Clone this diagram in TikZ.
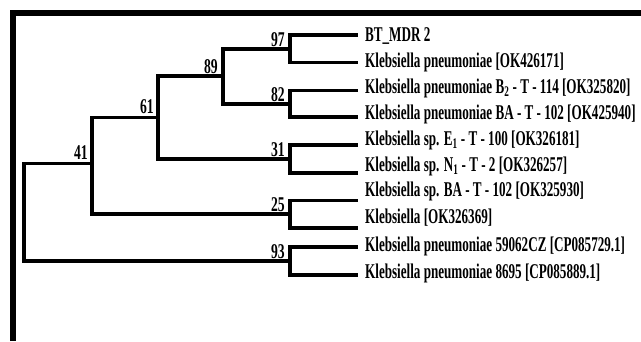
\documentclass[tikz,border=0pt]{standalone}
\usepackage{fontspec}
\setmainfont{Liberation Serif}
\newfontfamily\leaffont{Liberation Serif Bold}[FakeStretch=0.624]
\newfontfamily\bootfont{Liberation Serif Bold}[FakeStretch=0.65]
\begin{document}
\begin{tikzpicture}[x=1pt,y=-1pt,
  branch/.style={line width=3.6pt,line cap=rect,line join=miter},
  frameline/.style={line width=5.5pt},
  leaflab/.style={anchor=base west,inner sep=0pt,font=\leaffont\fontsize{21}{21}\selectfont},
  boot/.style={anchor=south east,inner sep=0pt,font=\bootfont\fontsize{21}{21}\selectfont}]
\useasboundingbox (0,0) rectangle (641,341);
% frame (top and left edges)
\coordinate (fl) at (13,341);
\coordinate (fc) at (13,13);
\coordinate (fr) at (641,13);
\draw[frameline] (fl) -- (fc) -- (fr);
% leaf ends
\foreach \i/\y in {1/35,2/62.5,3/90.5,4/117,5/145,6/173,7/200.5,8/228,9/247,10/275}
  \coordinate (e\i) at (356,\y);
% internal nodes
\coordinate (n97) at (290,48.75);
\coordinate (n82) at (290,103.75);
\coordinate (n89) at (223,76.25);
\coordinate (n31) at (290,159);
\coordinate (n61) at (158,117.5);
\coordinate (n25) at (290,214.25);
\coordinate (n41) at (92,163.3);
\coordinate (n93) at (290,261);
\coordinate (root) at (24,212);
% branches
\draw[branch] (n97) |- (e1); \draw[branch] (n97) |- (e2);
\draw[branch] (n82) |- (e3); \draw[branch] (n82) |- (e4);
\draw[branch] (n31) |- (e5); \draw[branch] (n31) |- (e6);
\draw[branch] (n25) |- (e7); \draw[branch] (n25) |- (e8);
\draw[branch] (n93) |- (e9); \draw[branch] (n93) |- (e10);
\draw[branch] (n89) |- (n97); \draw[branch] (n89) |- (n82);
\draw[branch] (n61) |- (n89); \draw[branch] (n61) |- (n31);
\draw[branch] (n41) |- (n61); \draw[branch] (n41) |- (n25);
\draw[branch] (root) |- (n41); \draw[branch] (root) |- (n93);
% leaf labels
\node[leaflab] (t1) at (365,41.7) {BT\_MDR 2};
\node[leaflab] (t2) at (365,67.3) {Klebsiella pneumoniae [OK426171]};
\node[leaflab] (t3) at (365,93.3) {Klebsiella pneumoniae B\textsubscript{2} - T - 114 [OK325820]};
\node[leaflab] (t4) at (365,119.3) {Klebsiella pneumoniae BA - T - 102 [OK425940]};
\node[leaflab] (t5) at (365,145.3) {Klebsiella sp. E\textsubscript{1} - T - 100 [OK326181]};
\node[leaflab] (t6) at (365,171.2) {Klebsiella sp. N\textsubscript{1} - T - 2 [OK326257]};
\node[leaflab] (t7) at (365,196.7) {Klebsiella sp. BA - T - 102 [OK325930]};
\node[leaflab] (t8) at (365,223) {Klebsiella [OK326369]};
\node[leaflab] (t9) at (365,251.7) {Klebsiella pneumoniae 59062CZ [CP085729.1]};
\node[leaflab] (t10) at (365,278.3) {Klebsiella pneumoniae 8695 [CP085889.1]};
% bootstrap values
\node[boot] (b97) at (285,46.5) {97};
\node[boot] (b89) at (218,73.5) {89};
\node[boot] (b82) at (285,101.5) {82};
\node[boot] (b61) at (154,114) {61};
\node[boot] (b31) at (285,156.5) {31};
\node[boot] (b41) at (88,160) {41};
\node[boot] (b25) at (285,211.5) {25};
\node[boot] (b93) at (285,258.5) {93};
\end{tikzpicture}
\end{document}
